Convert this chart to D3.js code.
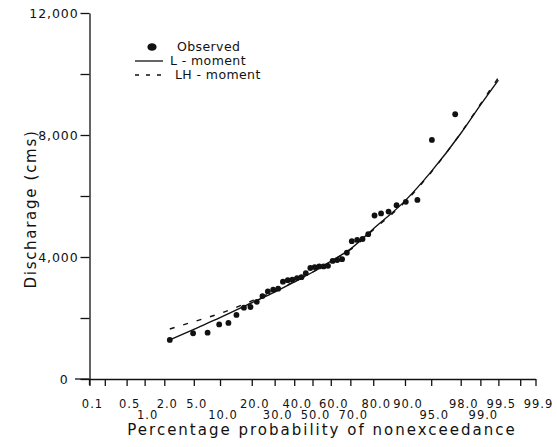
<!doctype html>
<html lang="en">
<head>
<meta charset="utf-8">
<title>Discharge frequency</title>
<script src="https://d3js.org/d3.v7.min.js"></script>
<style>
  body { margin: 0; background: #fff; }
  svg text { font-family: "DejaVu Sans", sans-serif; fill: #111; }
  .axis path, .axis line { stroke: #111; stroke-width: 1.3; }
</style>
</head>
<body>
<div id="chart"></div>
<script>
// tick labels on the probability axis (percent)
var probTicks = [0.1, 0.5, 1, 2, 5, 10, 20, 30, 40, 50, 60, 70, 80, 90, 95, 98, 99, 99.5, 99.9];
var probLower = [1, 10, 30, 50, 70, 95, 99];   // labels written on the second row
var probMinor = [0.2, 99.8];                     // unlabelled ticks
var qTicks = [0, 2000, 4000, 6000, 8000, 10000, 12000];
var qLabelled = [0, 4000, 8000, 12000];

// observed floods (plotting position in %, discharge in cms)
var obsProb = [2.4, 4.9, 7.3, 9.8, 12.2, 14.6, 17.1, 19.5, 22.0, 24.4, 26.8, 29.3, 31.7, 34.1, 36.6, 39.0, 41.5, 43.9, 46.3, 48.8,
               51.2, 53.7, 56.1, 58.5, 61.0, 63.4, 65.9, 68.3, 70.7, 73.2, 75.6, 78.0, 80.5, 82.9, 85.4, 87.8, 90.2, 92.7, 95.1, 97.6];
var obsQ = [1280, 1500, 1520, 1790, 1840, 2100, 2340, 2360, 2530, 2720, 2870, 2930, 2960, 3190, 3240, 3260, 3310, 3340, 3470, 3640,
            3670, 3690, 3690, 3710, 3870, 3900, 3930, 4140, 4520, 4560, 4590, 4750, 5360, 5430, 5490, 5700, 5810, 5870, 7840, 8680];

// fitted distributions
var fitProb = [2.4, 5, 10, 20, 30, 40, 50, 60, 70, 80, 90, 95, 98, 99, 99.5];
var lMoment = [1280, 1630, 2010, 2500, 2850, 3180, 3500, 3860, 4260, 4920, 5840, 6800, 8050, 8980, 9800];
var lhMoment = [1640, 1880, 2150, 2560, 2880, 3190, 3500, 3850, 4240, 4890, 5800, 6780, 8060, 9010, 9880];

// inverse of the standard normal cdf (Acklam), for normal probability paper
function probit(p) {
  var a = [-39.69683028665376, 220.9460984245205, -275.9285104469687, 138.357751867269, -30.66479806614716, 2.506628277459239],
      b = [-54.47609879822406, 161.5858368580409, -155.6989798598866, 66.80131188771972, -13.28068155288572],
      c = [-0.007784894002430293, -0.3223964580411365, -2.400758277161838, -2.549732539343734, 4.374664141464968, 2.938163982698783],
      d = [0.007784695709041462, 0.3224671290700398, 2.445134137142996, 3.754408661907416];
  var q, r;
  if (p < 0.02425) {
    q = Math.sqrt(-2 * Math.log(p));
    return (((((c[0]*q+c[1])*q+c[2])*q+c[3])*q+c[4])*q+c[5]) / ((((d[0]*q+d[1])*q+d[2])*q+d[3])*q+1);
  }
  if (p > 1 - 0.02425) {
    q = Math.sqrt(-2 * Math.log(1 - p));
    return -(((((c[0]*q+c[1])*q+c[2])*q+c[3])*q+c[4])*q+c[5]) / ((((d[0]*q+d[1])*q+d[2])*q+d[3])*q+1);
  }
  q = p - 0.5; r = q * q;
  return (((((a[0]*r+a[1])*r+a[2])*r+a[3])*r+a[4])*r+a[5])*q / (((((b[0]*r+b[1])*r+b[2])*r+b[3])*r+b[4])*r+1);
}

var width = 557, height = 447;
var plotLeft = 89.5, plotRight = 535.5, plotTop = 13, plotBottom = 379;

var svg = d3.select("#chart").append("svg")
    .attr("width", width)
    .attr("height", height);

var z = d3.scaleLinear().domain([probit(0.001), probit(0.999)]).range([plotLeft, plotRight]);
var x = function(pct) { return z(probit(pct / 100)); };
var y = d3.scaleLinear().domain([0, 12000]).range([plotBottom, plotTop]);

// x axis (probability)
var xAxis = d3.axisBottom(z)
    .tickValues(probTicks.concat(probMinor).map(function(p) { return probit(p / 100); }))
    .tickSize(7)
    .tickSizeOuter(0)
    .tickFormat("");
svg.append("g").attr("class", "axis")
    .attr("transform", "translate(0," + plotBottom + ")")
    .call(xAxis);
svg.append("line")
    .attr("x1", 75).attr("x2", plotLeft).attr("y1", plotBottom).attr("y2", plotBottom)
    .attr("stroke", "#111").attr("stroke-width", 1.3);

svg.append("g").selectAll("text")
    .data(probTicks)
    .enter().append("text")
    .attr("x", function(d) { return x(d) + 3; })
    .attr("y", function(d) { return probLower.indexOf(d) >= 0 ? 419 : 407.5; })
    .attr("text-anchor", "middle")
    .attr("font-size", 11.5)
    .attr("letter-spacing", 1)
    .text(function(d) { return d.toFixed(1); });

svg.append("text")
    .attr("x", 322).attr("y", 435)
    .attr("text-anchor", "middle")
    .attr("font-size", 15)
    .attr("letter-spacing", 2)
    .text("Percentage probability of nonexceedance");

// y axis (discharge)
var yAxis = d3.axisLeft(y)
    .tickValues(qTicks)
    .tickSize(9)
    .tickSizeOuter(0)
    .tickPadding(2)
    .tickFormat(function(d) { return qLabelled.indexOf(d) >= 0 ? d3.format(",")(d) : ""; });
var gy = svg.append("g").attr("class", "axis")
    .attr("transform", "translate(" + plotLeft + ",0)")
    .call(yAxis);
gy.selectAll("text")
    .attr("font-size", 12.5)
    .attr("letter-spacing", 0.9)
    .attr("font-family", "DejaVu Sans, sans-serif")
    .attr("fill", "#111")
    .filter(function(d) { return d === 0; })
    .attr("x", -21);
svg.append("line")
    .attr("x1", plotLeft).attr("x2", plotLeft).attr("y1", plotBottom).attr("y2", plotBottom + 6)
    .attr("stroke", "#111").attr("stroke-width", 1.3);

svg.append("text")
    .attr("transform", "translate(36,209) rotate(-90)")
    .attr("text-anchor", "middle")
    .attr("font-size", 15)
    .attr("letter-spacing", 1.7)
    .text("Discharage (cms)");

// fitted curves
var line = d3.line()
    .x(function(d) { return x(d[0]); })
    .y(function(d) { return y(d[1]); })
    .curve(d3.curveMonotoneX);

svg.append("path")
    .datum(d3.zip(fitProb, lMoment))
    .attr("d", line)
    .attr("fill", "none")
    .attr("stroke", "#111")
    .attr("stroke-width", 1.4);

svg.append("path")
    .datum(d3.zip(fitProb, lhMoment))
    .attr("d", line)
    .attr("fill", "none")
    .attr("stroke", "#111")
    .attr("stroke-width", 1.4)
    .attr("stroke-dasharray", "5,9");

// observed points
svg.append("g").selectAll("circle")
    .data(d3.zip(obsProb, obsQ))
    .enter().append("circle")
    .attr("cx", function(d) { return x(d[0]); })
    .attr("cy", function(d) { return y(d[1]); })
    .attr("r", 2.9)
    .attr("fill", "#111");

// legend
var legend = svg.append("g").attr("font-size", 12.5).attr("letter-spacing", 0.4);
legend.append("ellipse").attr("cx", 152).attr("cy", 47).attr("rx", 4.6).attr("ry", 3.8).attr("fill", "#111");
legend.append("text").attr("x", 177).attr("y", 51).text("Observed");
legend.append("line").attr("x1", 135).attr("x2", 163).attr("y1", 61).attr("y2", 61)
    .attr("stroke", "#111").attr("stroke-width", 1.3);
legend.append("text").attr("x", 170).attr("y", 65).text("L - moment");
legend.append("line").attr("x1", 135).attr("x2", 166).attr("y1", 75).attr("y2", 75)
    .attr("stroke", "#111").attr("stroke-width", 1.3).attr("stroke-dasharray", "4,7");
legend.append("text").attr("x", 175).attr("y", 79).text("LH - moment");
</script>
</body>
</html>
